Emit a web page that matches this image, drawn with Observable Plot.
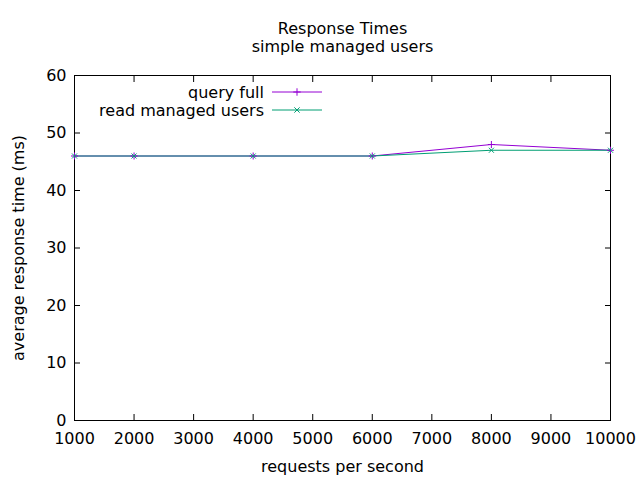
<!DOCTYPE html>
<html><head><meta charset="utf-8">
<script src="https://cdn.jsdelivr.net/npm/d3@7"></script>
<script src="https://cdn.jsdelivr.net/npm/@observablehq/plot@0.6"></script>
<style>
body{margin:0;background:#fff;}
#wrap{position:relative;width:640px;height:480px;font-family:"DejaVu Sans",sans-serif;}
#legend{position:absolute;left:0;top:0;}
</style></head>
<body><div id="wrap"></div>
<script>
const requests = [1000, 2000, 4000, 6000, 8000, 10000];
const queryFull = [46, 46, 46, 46, 48, 47];
const readManagedUsers = [46, 46, 46, 46, 47, 47];
const seriesNames = ["query full", "read managed users"];
const seriesColors = ["#9400d3", "#009e73"];
const seriesSymbols = ["plus", "times"];
const xTicks = [1000,2000,3000,4000,5000,6000,7000,8000,9000,10000];
const yTicks = [0,10,20,30,40,50,60];

const data = [];
requests.forEach((r,i)=>{
  data.push({x:r, y:queryFull[i], s:seriesNames[0]});
  data.push({x:r, y:readManagedUsers[i], s:seriesNames[1]});
});

const font = 16;
const chart = Plot.plot({
  width: 640, height: 480,
  marginTop: 75, marginBottom: 60, marginLeft: 74, marginRight: 30,
  style: {fontFamily: "DejaVu Sans, sans-serif", fontSize: font+"px", color:"#000", background:"#fff"},
  x: {domain:[1000,10000]},
  y: {domain:[0,60]},
  color: {domain: seriesNames, range: seriesColors},
  symbol: {domain: seriesNames, range: seriesSymbols},
  marks: [
    Plot.frame({stroke:"#000", strokeWidth:1}),
    Plot.axisX({ticks:xTicks, tickSize:-6, tickPadding:18, tickFormat:d=>String(d), label:null, fontSize:font}),
    Plot.axisX({ticks:xTicks, anchor:"top", tickSize:-6, label:null, text:null}),
    Plot.axisY({ticks:yTicks, tickSize:-6, tickPadding:14, label:null, fontSize:font}),
    Plot.axisY({ticks:yTicks, anchor:"right", tickSize:-6, label:null, text:null}),
    Plot.line(data, {x:"x", y:"y", z:"s", stroke:"s", strokeWidth:1}),
    Plot.dot(data, {x:"x", y:"y", stroke:"s", symbol:"s", r:2.4, strokeWidth:1}),
    Plot.text(["Response Times"], {frameAnchor:"top", lineAnchor:"middle", dy:-47, fontSize:font}),
    Plot.text(["simple managed users"], {frameAnchor:"top", lineAnchor:"middle", dy:-29, fontSize:font}),
    Plot.text(["requests per second"], {frameAnchor:"bottom", lineAnchor:"middle", dy:46, fontSize:font}),
    Plot.text(["average response time (ms)"], {frameAnchor:"left", textAnchor:"middle", lineAnchor:"middle", dx:-56, rotate:-90, fontSize:font})
  ]
});
document.getElementById("wrap").appendChild(chart);

// legend overlay
const lg = d3.select("#wrap").append("svg").attr("id","legend").attr("width",640).attr("height",480)
  .style("font-family","DejaVu Sans, sans-serif").style("font-size",font+"px");
seriesNames.forEach((name,i)=>{
  const y = 92 + i*18;
  lg.append("text").attr("x",264).attr("y",y).attr("dy","0.35em").attr("text-anchor","end").attr("fill","#000").text(name);
  lg.append("line").attr("x1",272).attr("x2",322).attr("y1",y).attr("y2",y).attr("stroke",seriesColors[i]);
  lg.append("path").attr("d", d3.symbol(seriesSymbols[i]==="plus"?d3.symbolPlus:d3.symbolTimes, 20)())
    .attr("transform",`translate(297,${y})`).attr("fill","none").attr("stroke",seriesColors[i]);
});
</script></body></html>
